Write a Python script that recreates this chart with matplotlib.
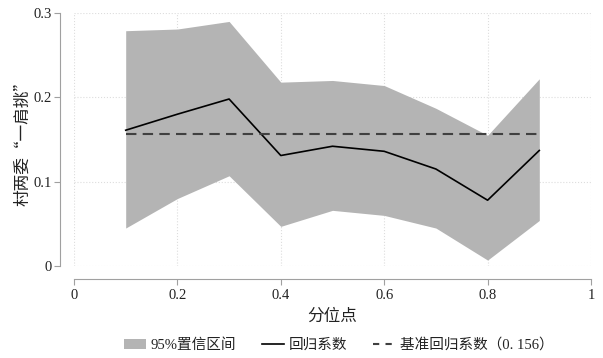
import numpy as np
import matplotlib
matplotlib.use('Agg')
import matplotlib.pyplot as plt
from matplotlib.patches import Patch
from matplotlib.lines import Line2D

plt.rcParams['font.family'] = ['Liberation Serif', 'Noto Sans CJK SC', 'DejaVu Sans']

# 分位点与回归结果
quantiles = [0.1, 0.2, 0.3, 0.4, 0.5, 0.6, 0.7, 0.8, 0.9]
coef = [0.161, 0.180, 0.198, 0.131, 0.142, 0.136, 0.115, 0.078, 0.137]
ci_upper = [0.279, 0.281, 0.290, 0.218, 0.220, 0.214, 0.187, 0.155, 0.222]
ci_lower = [0.045, 0.080, 0.107, 0.047, 0.066, 0.060, 0.045, 0.007, 0.054]
base_coef = 0.156

xticks = [0, 0.2, 0.4, 0.6, 0.8, 1]
xticklabels = ['0', '0.2', '0.4', '0.6', '0.8', '1']
yticks = [0, 0.1, 0.2, 0.3]
yticklabels = ['0', '0.1', '0.2', '0.3']

fig = plt.figure(figsize=(6.03, 3.58), dpi=100)
ax = fig.add_axes([74/603, 92/358, 517/603, 253/358])

ax.fill_between(quantiles, ci_lower, ci_upper, color='#b4b4b4', lw=0, zorder=2)
ax.plot(quantiles, coef, color='black', lw=1.2, zorder=3)
ax.plot([quantiles[0], quantiles[-1]], [base_coef, base_coef], color='#404040',
        lw=1.5, ls=(0, (5, 3)), zorder=3)

ax.set_xlim(0, 1)
ax.set_ylim(0, 0.3)
ax.set_xticks(xticks)
ax.set_xticklabels(xticklabels)
ax.set_yticks(yticks)
ax.set_yticklabels(yticklabels)
ax.grid(True, color='#dddddd', ls=':', lw=0.8, zorder=1)

for s in ['top', 'right']:
    ax.spines[s].set_visible(False)
ax.spines['left'].set_position(('outward', 10))
ax.spines['bottom'].set_position(('outward', 9.5))
ax.spines['left'].set_bounds(0, 0.3)
ax.spines['bottom'].set_bounds(0, 1)
for s in ['left', 'bottom']:
    ax.spines[s].set_color('#a0a0a0')
    ax.spines[s].set_linewidth(0.8)
ax.tick_params(axis='both', colors='#a0a0a0', length=4, width=0.8,
               labelsize=10.5, labelcolor='#222222')
ax.tick_params(axis='x', pad=3)
ax.tick_params(axis='y', pad=2)

ax.set_xlabel('分位点', fontsize=12, color='#222222', labelpad=5)
ax.set_ylabel('村两委“一肩挑”', fontsize=12, color='#222222', labelpad=1.5,
              family=['Noto Sans CJK SC', 'DejaVu Sans'])

handles = [Patch(facecolor='#b4b4b4', edgecolor='none'),
           Line2D([], [], color='black', lw=1.2),
           Line2D([], [], color='#404040', lw=1.5, ls=(0, (3, 3)))]
labels = ['95%置信区间', '回归系数', '基准回归系数（0. 156）']
fig.legend(handles, labels, loc='center', bbox_to_anchor=(0.562, 0.036), ncol=3,
           frameon=False, fontsize=10.5, handlelength=1.5, handletextpad=0.3,
           columnspacing=1.8, labelcolor='#222222')

fig.savefig('out.png', dpi=100)
